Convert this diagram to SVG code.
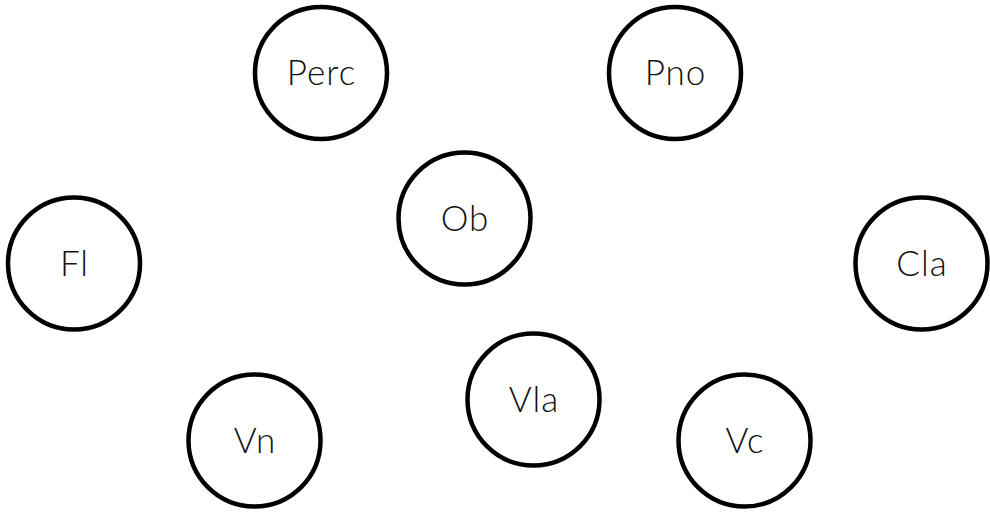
<svg xmlns="http://www.w3.org/2000/svg" width="990" height="515" viewBox="0 0 990 515">
<style>
.n circle{fill:#fff;stroke:#000;stroke-width:4.5}
.n text{font-family:Lato,"Liberation Sans",sans-serif;font-weight:300;font-size:35px;letter-spacing:1px;fill:#111;text-anchor:middle}
</style>
<rect width="990" height="515" fill="#fff"/>
<g id="connectors"></g>
<g id="perc" class="n"><circle cx="321" cy="73" r="66"/><text x="321.5" y="85">Perc</text></g>
<g id="pno" class="n"><circle cx="675" cy="73" r="66"/><text x="675.5" y="85">Pno</text></g>
<g id="ob" class="n"><circle cx="464.5" cy="218.5" r="66"/><text x="465" y="230.5">Ob</text></g>
<g id="fl" class="n"><circle cx="74" cy="263.5" r="66"/><text x="74.5" y="275.5">Fl</text></g>
<g id="cla" class="n"><circle cx="921.5" cy="263.5" r="66"/><text x="922" y="275.5">Cla</text></g>
<g id="vla" class="n"><circle cx="533.5" cy="399.5" r="66"/><text x="534" y="411.5">Vla</text></g>
<g id="vn" class="n"><circle cx="254.5" cy="440.5" r="66"/><text x="255" y="452.5">Vn</text></g>
<g id="vc" class="n"><circle cx="744.5" cy="440.5" r="66"/><text x="745" y="452.5">Vc</text></g>
</svg>
